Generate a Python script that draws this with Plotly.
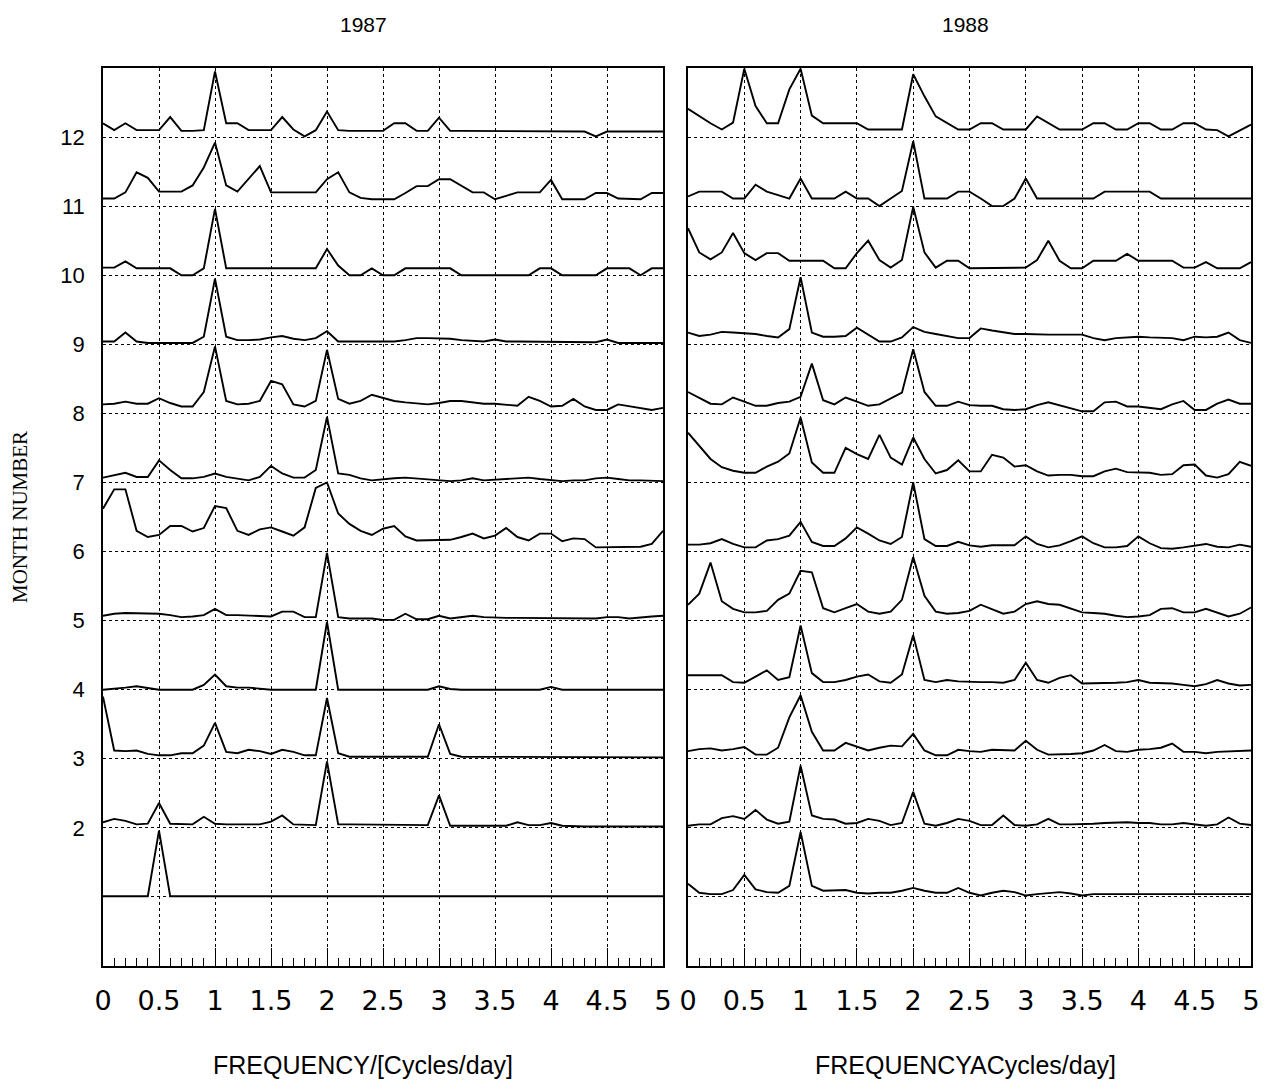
import plotly.graph_objects as go

FREQ = [0.0, 0.1, 0.2, 0.3, 0.4, 0.5, 0.6, 0.7, 0.8, 0.9,
        1.0, 1.1, 1.2, 1.3, 1.4, 1.5, 1.6, 1.7, 1.8, 1.9,
        2.0, 2.1, 2.2, 2.3, 2.4, 2.5, 2.6, 2.7, 2.8, 2.9,
        3.0, 3.1, 3.2, 3.3, 3.4, 3.5, 3.6, 3.7, 3.8, 3.9,
        4.0, 4.1, 4.2, 4.3, 4.4, 4.5, 4.6, 4.7, 4.8, 4.9, 5.0]

MONTHS = [1, 2, 3, 4, 5, 6, 7, 8, 9, 10, 11, 12]
X_TICKS = [0, 0.5, 1, 1.5, 2, 2.5, 3, 3.5, 4, 4.5, 5]
X_TICK_TEXT = ["0", "0.5", "1", "1.5", "2", "2.5", "3", "3.5", "4", "4.5", "5"]
Y_TICK_TEXT = ["", "2", "3", "4", "5", "6", "7", "8", "9", "10", "11", "12"]

# ---- 1987 normalised spectra (amplitude above each month's baseline) ----
A87_M01 = [0.01, 0.01, 0.01, 0.01, 0.01, 0.96, 0.01, 0.01, 0.01, 0.01,
           0.01, 0.01, 0.02, 0.01, 0.01, 0.01, 0.01, 0.01, 0.01, 0.01,
           0.02, 0.01, 0.01, 0.01, 0.01, 0.01, 0.01, 0.01, 0.01, 0.01,
           0.02, 0.01, 0.01, 0.01, 0.01, 0.01, 0.01, 0.01, 0.01, 0.01,
           0.01, 0.01, 0.01, 0.01, 0.01, 0.01, 0.01, 0.01, 0.01, 0.01, 0.01]
A87_M02 = [0.08, 0.13, 0.10, 0.05, 0.06, 0.36, 0.06, 0.05, 0.05, 0.16,
           0.06, 0.05, 0.05, 0.05, 0.05, 0.09, 0.18, 0.05, 0.04, 0.04,
           0.96, 0.05, 0.05, 0.05, 0.05, 0.05, 0.05, 0.05, 0.04, 0.04,
           0.47, 0.03, 0.03, 0.03, 0.03, 0.03, 0.03, 0.08, 0.04, 0.04,
           0.07, 0.03, 0.02, 0.02, 0.02, 0.02, 0.02, 0.02, 0.02, 0.02, 0.02]
A87_M03 = [0.90, 0.12, 0.11, 0.12, 0.07, 0.05, 0.05, 0.08, 0.08, 0.19,
           0.52, 0.10, 0.08, 0.13, 0.11, 0.07, 0.13, 0.10, 0.05, 0.05,
           0.88, 0.08, 0.03, 0.03, 0.03, 0.03, 0.03, 0.03, 0.03, 0.03,
           0.50, 0.07, 0.03, 0.03, 0.03, 0.03, 0.03, 0.03, 0.03, 0.03,
           0.02, 0.02, 0.02, 0.02, 0.02, 0.02, 0.02, 0.02, 0.02, 0.02, 0.02]
A87_M04 = [0.00, 0.01, 0.03, 0.05, 0.02, 0.00, 0.00, 0.00, 0.00, 0.07,
           0.22, 0.05, 0.03, 0.03, 0.01, 0.00, 0.00, 0.00, 0.00, 0.00,
           0.98, 0.00, 0.00, 0.00, 0.00, 0.00, 0.00, 0.00, 0.00, 0.00,
           0.05, 0.01, 0.00, 0.00, 0.00, 0.00, 0.00, 0.00, 0.00, 0.00,
           0.04, 0.00, 0.00, 0.00, 0.00, 0.00, 0.00, 0.00, 0.00, 0.00, 0.00]
A87_M05 = [0.07, 0.10, 0.11, 0.11, 0.10, 0.10, 0.08, 0.05, 0.06, 0.08,
           0.17, 0.08, 0.08, 0.07, 0.07, 0.06, 0.13, 0.13, 0.05, 0.05,
           0.98, 0.05, 0.03, 0.03, 0.03, 0.01, 0.01, 0.10, 0.02, 0.02,
           0.07, 0.03, 0.05, 0.07, 0.05, 0.04, 0.04, 0.04, 0.04, 0.04,
           0.03, 0.03, 0.03, 0.03, 0.03, 0.05, 0.05, 0.03, 0.05, 0.06, 0.07]
A87_M06 = [0.62, 0.90, 0.90, 0.30, 0.21, 0.24, 0.37, 0.37, 0.29, 0.34,
           0.66, 0.63, 0.30, 0.24, 0.32, 0.35, 0.29, 0.23, 0.35, 0.92,
           1.00, 0.55, 0.40, 0.30, 0.24, 0.33, 0.37, 0.22, 0.16, 0.16,
           0.16, 0.17, 0.21, 0.26, 0.19, 0.23, 0.34, 0.21, 0.16, 0.26,
           0.26, 0.15, 0.19, 0.18, 0.06, 0.06, 0.07, 0.07, 0.07, 0.11, 0.30]
A87_M07 = [0.07, 0.10, 0.14, 0.08, 0.08, 0.32, 0.18, 0.06, 0.06, 0.08,
           0.13, 0.08, 0.06, 0.03, 0.08, 0.24, 0.13, 0.07, 0.07, 0.18,
           0.95, 0.13, 0.11, 0.06, 0.03, 0.05, 0.06, 0.07, 0.06, 0.05,
           0.03, 0.02, 0.03, 0.06, 0.03, 0.04, 0.06, 0.07, 0.07, 0.05,
           0.03, 0.02, 0.03, 0.03, 0.06, 0.07, 0.05, 0.03, 0.03, 0.02, 0.02]
A87_M08 = [0.13, 0.14, 0.17, 0.14, 0.14, 0.22, 0.15, 0.10, 0.10, 0.31,
           0.97, 0.18, 0.13, 0.14, 0.18, 0.47, 0.42, 0.13, 0.10, 0.18,
           0.92, 0.21, 0.14, 0.18, 0.27, 0.23, 0.18, 0.16, 0.14, 0.13,
           0.15, 0.18, 0.18, 0.16, 0.14, 0.14, 0.12, 0.11, 0.24, 0.18,
           0.10, 0.11, 0.21, 0.10, 0.05, 0.05, 0.13, 0.10, 0.07, 0.05, 0.08]
A87_M09 = [0.04, 0.04, 0.17, 0.04, 0.02, 0.02, 0.02, 0.02, 0.02, 0.11,
           0.95, 0.11, 0.06, 0.06, 0.07, 0.10, 0.12, 0.08, 0.06, 0.09,
           0.19, 0.04, 0.04, 0.04, 0.04, 0.04, 0.04, 0.06, 0.09, 0.09,
           0.09, 0.08, 0.06, 0.05, 0.04, 0.07, 0.04, 0.04, 0.04, 0.04,
           0.04, 0.03, 0.03, 0.03, 0.03, 0.07, 0.02, 0.02, 0.02, 0.02, 0.02]
A87_M10 = [0.11, 0.11, 0.20, 0.10, 0.10, 0.10, 0.10, 0.00, 0.00, 0.10,
           0.96, 0.10, 0.10, 0.10, 0.10, 0.10, 0.10, 0.10, 0.10, 0.10,
           0.38, 0.14, 0.00, 0.00, 0.10, 0.00, 0.00, 0.10, 0.10, 0.10,
           0.10, 0.10, 0.00, 0.00, 0.00, 0.00, 0.00, 0.00, 0.00, 0.10,
           0.10, 0.00, 0.00, 0.00, 0.00, 0.10, 0.10, 0.10, 0.00, 0.10, 0.10]
A87_M11 = [0.11, 0.11, 0.20, 0.49, 0.41, 0.21, 0.21, 0.21, 0.30, 0.56,
           0.92, 0.30, 0.21, 0.39, 0.58, 0.20, 0.20, 0.20, 0.20, 0.20,
           0.39, 0.49, 0.20, 0.12, 0.10, 0.10, 0.10, 0.19, 0.29, 0.29,
           0.39, 0.39, 0.29, 0.20, 0.20, 0.10, 0.15, 0.20, 0.20, 0.20,
           0.38, 0.10, 0.10, 0.10, 0.19, 0.19, 0.11, 0.10, 0.10, 0.19, 0.19]
A87_M12 = [0.20, 0.10, 0.20, 0.10, 0.10, 0.10, 0.29, 0.09, 0.09, 0.10,
           0.95, 0.20, 0.20, 0.10, 0.10, 0.10, 0.29, 0.11, 0.01, 0.10,
           0.37, 0.10, 0.09, 0.09, 0.09, 0.09, 0.20, 0.20, 0.09, 0.09,
           0.28, 0.09, 0.09, 0.09, 0.09, 0.09, 0.09, 0.09, 0.09, 0.09,
           0.09, 0.08, 0.08, 0.08, 0.01, 0.08, 0.08, 0.08, 0.08, 0.08, 0.08]

# ---- 1988 normalised spectra ----
A88_M01 = [0.19, 0.06, 0.04, 0.04, 0.10, 0.32, 0.11, 0.07, 0.06, 0.16,
           0.94, 0.16, 0.09, 0.09, 0.10, 0.06, 0.05, 0.06, 0.06, 0.09,
           0.13, 0.09, 0.06, 0.06, 0.13, 0.06, 0.02, 0.06, 0.09, 0.07,
           0.02, 0.04, 0.05, 0.07, 0.05, 0.02, 0.04, 0.04, 0.04, 0.04,
           0.04, 0.04, 0.04, 0.04, 0.04, 0.04, 0.04, 0.04, 0.04, 0.04, 0.04]
A88_M02 = [0.03, 0.05, 0.05, 0.14, 0.17, 0.13, 0.26, 0.12, 0.06, 0.09,
           0.90, 0.18, 0.13, 0.12, 0.06, 0.07, 0.13, 0.10, 0.04, 0.07,
           0.52, 0.06, 0.03, 0.07, 0.13, 0.10, 0.04, 0.04, 0.18, 0.04,
           0.03, 0.05, 0.13, 0.05, 0.05, 0.05, 0.06, 0.07, 0.08, 0.08,
           0.07, 0.07, 0.05, 0.05, 0.07, 0.05, 0.03, 0.05, 0.15, 0.06, 0.04]
A88_M03 = [0.11, 0.14, 0.15, 0.12, 0.14, 0.17, 0.06, 0.06, 0.16, 0.60,
           0.92, 0.39, 0.12, 0.12, 0.23, 0.18, 0.12, 0.16, 0.19, 0.18,
           0.36, 0.12, 0.05, 0.05, 0.13, 0.11, 0.10, 0.13, 0.13, 0.12,
           0.26, 0.13, 0.06, 0.06, 0.07, 0.08, 0.12, 0.20, 0.11, 0.10,
           0.13, 0.14, 0.16, 0.22, 0.10, 0.10, 0.08, 0.10, 0.11, 0.12, 0.12]
A88_M04 = [0.21, 0.21, 0.22, 0.21, 0.11, 0.10, 0.19, 0.28, 0.14, 0.18,
           0.93, 0.24, 0.11, 0.11, 0.14, 0.19, 0.22, 0.12, 0.10, 0.22,
           0.79, 0.14, 0.11, 0.14, 0.12, 0.11, 0.11, 0.11, 0.10, 0.14,
           0.39, 0.14, 0.10, 0.17, 0.21, 0.09, 0.09, 0.10, 0.10, 0.11,
           0.14, 0.10, 0.10, 0.09, 0.07, 0.05, 0.08, 0.14, 0.09, 0.06, 0.07]
A88_M05 = [0.23, 0.39, 0.84, 0.28, 0.17, 0.12, 0.12, 0.14, 0.30, 0.39,
           0.72, 0.70, 0.18, 0.12, 0.18, 0.24, 0.13, 0.10, 0.13, 0.30,
           0.92, 0.36, 0.13, 0.10, 0.11, 0.14, 0.23, 0.17, 0.10, 0.13,
           0.24, 0.28, 0.24, 0.23, 0.18, 0.12, 0.11, 0.10, 0.07, 0.05,
           0.06, 0.08, 0.17, 0.18, 0.12, 0.12, 0.17, 0.12, 0.06, 0.10, 0.19]
A88_M06 = [0.10, 0.10, 0.12, 0.18, 0.11, 0.06, 0.06, 0.16, 0.18, 0.23,
           0.43, 0.14, 0.08, 0.08, 0.19, 0.35, 0.26, 0.16, 0.11, 0.21,
           1.00, 0.18, 0.08, 0.08, 0.14, 0.09, 0.07, 0.09, 0.09, 0.09,
           0.22, 0.11, 0.06, 0.09, 0.15, 0.22, 0.12, 0.06, 0.06, 0.08,
           0.22, 0.12, 0.05, 0.04, 0.06, 0.09, 0.11, 0.07, 0.06, 0.10, 0.07]
A88_M07 = [0.72, 0.53, 0.34, 0.22, 0.17, 0.14, 0.14, 0.23, 0.30, 0.42,
           0.94, 0.29, 0.14, 0.14, 0.50, 0.41, 0.34, 0.69, 0.36, 0.26,
           0.65, 0.34, 0.13, 0.18, 0.32, 0.16, 0.16, 0.40, 0.36, 0.23,
           0.25, 0.16, 0.10, 0.11, 0.11, 0.09, 0.09, 0.16, 0.20, 0.15,
           0.15, 0.14, 0.11, 0.12, 0.25, 0.26, 0.10, 0.07, 0.12, 0.30, 0.24]
A88_M08 = [0.31, 0.22, 0.14, 0.13, 0.23, 0.17, 0.11, 0.11, 0.15, 0.17,
           0.24, 0.72, 0.19, 0.13, 0.23, 0.17, 0.11, 0.13, 0.21, 0.30,
           0.93, 0.31, 0.11, 0.11, 0.17, 0.12, 0.11, 0.11, 0.06, 0.05,
           0.06, 0.12, 0.16, 0.12, 0.07, 0.03, 0.03, 0.16, 0.17, 0.10,
           0.10, 0.08, 0.06, 0.13, 0.18, 0.05, 0.05, 0.14, 0.20, 0.14, 0.14]
A88_M09 = [0.17, 0.12, 0.14, 0.18, 0.17, 0.16, 0.15, 0.12, 0.10, 0.22,
           0.97, 0.17, 0.11, 0.11, 0.12, 0.24, 0.14, 0.04, 0.04, 0.10,
           0.25, 0.18, 0.15, 0.12, 0.09, 0.09, 0.23, 0.20, 0.17, 0.15,
           0.15, 0.14, 0.14, 0.14, 0.14, 0.14, 0.09, 0.06, 0.09, 0.10,
           0.11, 0.10, 0.10, 0.09, 0.06, 0.11, 0.10, 0.11, 0.17, 0.06, 0.02]
A88_M10 = [0.68, 0.33, 0.23, 0.33, 0.61, 0.32, 0.22, 0.32, 0.32, 0.21,
           0.21, 0.21, 0.21, 0.10, 0.10, 0.32, 0.50, 0.22, 0.11, 0.22,
           0.99, 0.33, 0.11, 0.21, 0.21, 0.10, 0.10, 0.10, 0.10, 0.10,
           0.11, 0.22, 0.50, 0.21, 0.10, 0.10, 0.21, 0.21, 0.21, 0.31,
           0.21, 0.21, 0.21, 0.21, 0.11, 0.11, 0.19, 0.10, 0.10, 0.10, 0.19]
A88_M11 = [0.14, 0.21, 0.21, 0.21, 0.11, 0.11, 0.31, 0.21, 0.16, 0.11,
           0.40, 0.11, 0.11, 0.11, 0.21, 0.11, 0.11, 0.00, 0.11, 0.22,
           0.94, 0.11, 0.11, 0.11, 0.21, 0.21, 0.11, 0.00, 0.00, 0.11,
           0.40, 0.11, 0.11, 0.11, 0.11, 0.11, 0.11, 0.21, 0.21, 0.21,
           0.21, 0.21, 0.11, 0.11, 0.11, 0.11, 0.11, 0.11, 0.11, 0.11, 0.11]
A88_M12 = [0.41, 0.30, 0.20, 0.11, 0.21, 0.99, 0.45, 0.20, 0.20, 0.69,
           0.99, 0.31, 0.20, 0.20, 0.20, 0.20, 0.11, 0.11, 0.11, 0.11,
           0.91, 0.59, 0.30, 0.20, 0.11, 0.11, 0.20, 0.20, 0.11, 0.11,
           0.11, 0.30, 0.20, 0.11, 0.11, 0.11, 0.20, 0.20, 0.11, 0.11,
           0.20, 0.20, 0.11, 0.11, 0.20, 0.20, 0.11, 0.10, 0.01, 0.10, 0.18]

SPECTRA_1987 = [A87_M01, A87_M02, A87_M03, A87_M04, A87_M05, A87_M06,
                A87_M07, A87_M08, A87_M09, A87_M10, A87_M11, A87_M12]
SPECTRA_1988 = [A88_M01, A88_M02, A88_M03, A88_M04, A88_M05, A88_M06,
                A88_M07, A88_M08, A88_M09, A88_M10, A88_M11, A88_M12]

fig = go.Figure()

for axis_id, spectra in (("", SPECTRA_1987), ("2", SPECTRA_1988)):
    for month, amp in zip(MONTHS, spectra):
        fig.add_trace(go.Scatter(
            x=FREQ, y=[month + a for a in amp],
            mode="lines", line=dict(color="black", width=1.9),
            xaxis="x" + axis_id, yaxis="y" + axis_id,
            showlegend=False, hoverinfo="skip", cliponaxis=True))

# page offset (body margin) compensation
OFF = 8
W, H = 1273, 1089
# target page positions of the plot frame
P_LEFT, P_RIGHT, P_TOP, P_BOTTOM = 103, 1251, 68, 966
L = P_LEFT - OFF
T = P_TOP - OFF
R = W - (P_RIGHT - OFF)
B = H - (P_BOTTOM - OFF)

x_common = dict(
    range=[0, 5], showline=True, mirror=True, linecolor="black", linewidth=1.6,
    showgrid=True, gridcolor="black", griddash="dot", gridwidth=1.2,
    tickmode="array", tickvals=X_TICKS, ticktext=X_TICK_TEXT,
    ticks="inside", ticklen=18, tickwidth=1.2, tickcolor="black",
    minor=dict(ticks="inside", ticklen=8, tickwidth=1, tickcolor="black",
               dtick=0.1, tick0=0, showgrid=False),
    tickfont=dict(family="DejaVu Sans", size=27, color="black"),
    ticklabelstandoff=10, zeroline=False,
)
y_common = dict(
    range=[0, 13], showline=True, mirror=True, linecolor="black", linewidth=1.6,
    showgrid=True, gridcolor="black", griddash="dot", gridwidth=1.2,
    tickmode="array", tickvals=MONTHS, ticks="", zeroline=False,
)


def px_x(px):
    return (px - P_LEFT) / (P_RIGHT - P_LEFT)


def px_y(py):
    return (P_BOTTOM - py) / (P_BOTTOM - P_TOP)


fig.update_layout(
    width=W, height=H,
    margin=dict(l=L, r=R, t=T, b=B),
    paper_bgcolor="white", plot_bgcolor="white",
    xaxis=dict(domain=[0, px_x(663)], anchor="y", **x_common),
    xaxis2=dict(domain=[px_x(688), 1], anchor="y2", **x_common),
    yaxis=dict(domain=[0, 1], anchor="x", ticktext=Y_TICK_TEXT,
               tickfont=dict(family="Liberation Sans", size=22, color="black"),
               ticklabelstandoff=12, **y_common),
    yaxis2=dict(domain=[0, 1], anchor="x2", showticklabels=False, **y_common),
)

annos = [
    dict(text="1987", x=px_x(363), y=px_y(25), size=21, family="Liberation Sans", angle=0),
    dict(text="1988", x=px_x(965), y=px_y(25), size=21, family="Liberation Sans", angle=0),
    dict(text="FREQUENCY/[Cycles/day]", x=px_x(363), y=px_y(1065), size=25,
         family="Liberation Sans", angle=0),
    dict(text="FREQUENCYACycles/day]", x=px_x(965), y=px_y(1065), size=25,
         family="Liberation Sans", angle=0),
    dict(text="MONTH NUMBER", x=px_x(20), y=px_y(517), size=21,
         family="Liberation Serif", angle=-90),
]
for a in annos:
    fig.add_annotation(text=a["text"], x=a["x"], y=a["y"], xref="paper", yref="paper",
                       xanchor="center", yanchor="middle", showarrow=False,
                       textangle=a["angle"],
                       font=dict(family=a["family"], size=a["size"], color="black"))

fig.write_html("out.html")
